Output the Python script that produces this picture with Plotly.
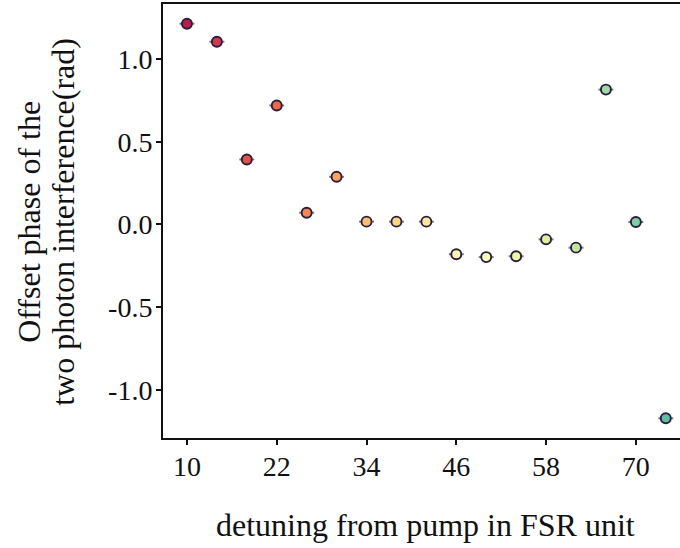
import plotly.graph_objects as go
import plotly.express as px

# data
detuning = [10, 14, 18, 22, 26, 30, 34, 38, 42, 46, 50, 54, 58, 62, 66, 70, 74]
phase = [1.213, 1.104, 0.393, 0.719, 0.071, 0.288, 0.017, 0.017, 0.017,
         -0.180, -0.197, -0.192, -0.090, -0.140, 0.815, 0.015, -1.171]
detuning_err = [1.0] * len(detuning)
x_ticks = [10, 22, 34, 46, 58, 70]
y_ticks = [-1.0, -0.5, 0.0, 0.5, 1.0]
y_tick_text = ["-1.0", "-0.5", "0.0", "0.5", "1.0"]

# palette position (seaborn-style Spectral with 20 colours -> (i+1)/21)
n_palette = 20
color_pos = [i + 1 for i in range(len(detuning))]

FONT = "Liberation Serif"
INK = "#111111"

fig = go.Figure()
fig.add_trace(go.Scatter(
    x=detuning, y=phase, mode="markers",
    error_x=dict(type="data", array=detuning_err, color="#7b7b88",
                 thickness=2, width=0),
    marker=dict(size=10, color=color_pos, colorscale=px.colors.diverging.Spectral,
                cmin=0, cmax=n_palette + 1,
                line=dict(color="#2a1d3f", width=1.9)),
    showlegend=False,
))

fig.update_layout(
    width=680, height=548,
    margin=dict(l=163, r=0, t=4, b=110),
    paper_bgcolor="white", plot_bgcolor="white",
    font=dict(family=FONT, size=28, color=INK),
    xaxis=dict(range=[6.8, 75.9], tickvals=x_ticks, ticks="outside", ticklen=5,
               tickwidth=1.6, tickcolor=INK, showline=True, linecolor=INK,
               linewidth=2, mirror=True, showgrid=False, zeroline=False,
               ticklabelstandoff=-3,
               tickfont=dict(family=FONT, size=28, color=INK)),
    yaxis=dict(range=[-1.29, 1.332], tickvals=y_ticks, ticktext=y_tick_text,
               ticks="outside", ticklen=5, tickwidth=1.6, tickcolor=INK,
               showline=True, linecolor=INK, linewidth=2, mirror=False,
               showgrid=False, zeroline=False, ticklabelstandoff=-2,
               tickfont=dict(family=FONT, size=28, color=INK)),
    annotations=[
        dict(text="detuning from pump in FSR unit", xref="paper", yref="paper",
             x=0.508, y=-0.2, xanchor="center", yanchor="middle", showarrow=False,
             font=dict(family=FONT, size=32, color=INK)),
        dict(text="Offset phase of the", xref="paper", yref="paper",
             x=(29 - 163) / 517, y=0.498, xanchor="center", yanchor="middle",
             textangle=-90, showarrow=False,
             font=dict(family=FONT, size=32, color=INK)),
        dict(text="two photon interference(rad)", xref="paper", yref="paper",
             x=(63 - 163) / 517, y=0.498, xanchor="center", yanchor="middle",
             textangle=-90, showarrow=False,
             font=dict(family=FONT, size=32, color=INK)),
    ],
)

fig.write_html("out.html", config={"displayModeBar": False},
               post_script="document.body.style.margin='0';document.body.style.overflow='hidden';")
